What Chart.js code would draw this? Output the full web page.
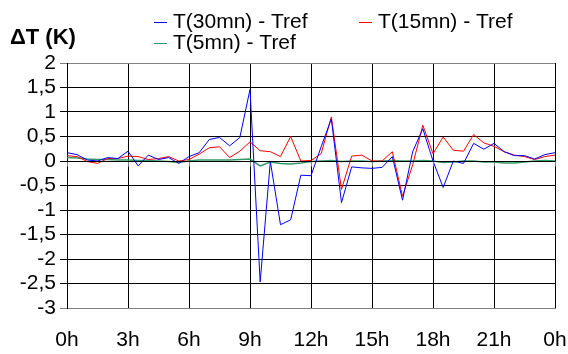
<!DOCTYPE html>
<html>
<head>
<meta charset="utf-8">
<script src="https://cdn.jsdelivr.net/npm/chart.js@4/dist/chart.umd.min.js"></script>
<style>
  html, body { margin: 0; padding: 0; background: #fff; }
  #wrap { width: 568px; height: 354px; }
</style>
</head>
<body>
<div id="wrap"><canvas id="graphique"></canvas></div>
<script>
const heures = ["0h","0h30","1h","1h30","2h","2h30","3h","3h30","4h","4h30","5h","5h30",
  "6h","6h30","7h","7h30","8h","8h30","9h","9h30","10h","10h30","11h","11h30",
  "12h","12h30","13h","13h30","14h","14h30","15h","15h30","16h","16h30","17h","17h30",
  "18h","18h30","19h","19h30","20h","20h30","21h","21h30","22h","22h30","23h","23h30","0h"];

const ecart30 = [0.17, 0.13, 0.02, 0.0, 0.07, 0.05, 0.2, -0.1, 0.12, 0.03, 0.07, -0.05,
  0.09, 0.17, 0.44, 0.48, 0.31, 0.48, 1.46, -2.47, -0.01, -1.3, -1.2, -0.29,
  -0.3, 0.29, 0.86, -0.85, -0.12, -0.14, -0.15, -0.13, 0.09, -0.8, 0.19, 0.66,
  0.0, -0.54, 0.0, -0.05, 0.36, 0.24, 0.36, 0.19, 0.11, 0.11, 0.04, 0.13, 0.17];

const ecart15 = [0.11, 0.09, -0.01, -0.05, 0.05, 0.05, 0.1, 0.09, 0.03, 0.05, 0.09, 0.0,
  0.03, 0.14, 0.27, 0.29, 0.07, 0.2, 0.39, 0.21, 0.19, 0.09, 0.5, 0.0,
  0.01, 0.15, 0.9, -0.58, 0.1, 0.12, 0.0, 0.0, 0.19, -0.72, -0.08, 0.73,
  0.15, 0.49, 0.22, 0.2, 0.54, 0.37, 0.3, 0.19, 0.12, 0.09, 0.03, 0.09, 0.12];

const ecart5 = [0.07, 0.06, 0.04, 0.03, 0.03, 0.02, 0.02, 0.01, 0.01, 0.0, -0.01, -0.03,
  0.0, 0.02, 0.02, 0.02, 0.02, 0.03, 0.04, -0.1, -0.02, -0.05, -0.06, -0.04,
  -0.01, 0.0, 0.01, -0.01, 0.0, 0.0, -0.01, 0.0, 0.01, 0.0, 0.0, 0.01,
  0.0, -0.03, -0.02, 0.0, 0.0, -0.02, -0.02, -0.04, -0.04, -0.02, 0.0, 0.01, 0.0];

const series = ["T(30mn) - Tref", "T(15mn) - Tref", "T(5mn) - Tref"];
const couleurs = ["#0000ff", "#ff0000", "#339966"];

const police = "'Liberation Sans', Arial, sans-serif";

// legende + titre dessines a la main
const legendeMaison = {
  id: "legendeMaison",
  afterDraw(chart) {
    const ctx = chart.ctx;
    ctx.save();
    ctx.fillStyle = "#000";
    ctx.font = "bold 22px " + police;
    ctx.textBaseline = "middle";
    ctx.fillText("\u0394T (K)", 10, 38);

    const places = [[154, 22], [359, 22], [154, 43]];
    ctx.font = "21px " + police;
    for (let i = 0; i < series.length; i++) {
      const [x, y] = places[i];
      ctx.strokeStyle = couleurs[i];
      ctx.lineWidth = 1;
      ctx.beginPath();
      ctx.moveTo(x, y + 0.5);
      ctx.lineTo(x + 13, y + 0.5);
      ctx.stroke();
      ctx.fillStyle = "#000";
      ctx.fillText(series[i], x + 19, y);
    }

    // petites graduations sous la ligne du zero
    const xs = chart.scales.x, ys = chart.scales.y;
    const y0 = Math.round(ys.getPixelForValue(0)) + 0.5;
    ctx.strokeStyle = "#808080";
    for (let i = 0; i < heures.length; i += 6) {
      const x = Math.round(xs.getPixelForValue(i)) + 0.5;
      ctx.beginPath();
      ctx.moveTo(x, y0);
      ctx.lineTo(x, y0 + 5);
      ctx.stroke();
    }
    ctx.strokeStyle = "#000";
    ctx.beginPath();
    ctx.moveTo(xs.left, y0);
    ctx.lineTo(xs.right, y0);
    ctx.stroke();
    ctx.restore();
  }
};

const data = {
  labels: heures,
  datasets: [
    { label: series[0], data: ecart30, borderColor: couleurs[0] },
    { label: series[1], data: ecart15, borderColor: couleurs[1] },
    { label: series[2], data: ecart5, borderColor: couleurs[2], borderWidth: 1.5 }
  ].map(d => Object.assign({ borderWidth: 1, pointRadius: 0, tension: 0, fill: false }, d))
};

const config = {
  type: "line",
  data: data,
  options: {
    responsive: true,
    maintainAspectRatio: false,
    animation: false,
    layout: { padding: { top: 63, right: 13, left: 0, bottom: 0 } },
    plugins: { legend: { display: false }, tooltip: { enabled: false } },
    scales: {
      x: {
        offset: false,
        ticks: {
          autoSkip: false,
          maxRotation: 0,
          padding: 20,
          color: "#000",
          font: { family: police, size: 21 },
          callback: function (val, index) {
            return index % 6 === 0 ? heures[index] : null;
          }
        },
        grid: {
          drawTicks: false,
          color: ctx => (ctx.index === heures.length - 1 ? "#808080" : "#000"),
          lineWidth: 1
        },
        border: { color: "#808080" },
        afterFit: scale => {
          scale.height = 46;
          scale.paddingLeft = 0;
          scale.paddingRight = 0;
        }
      },
      y: {
        min: -3,
        max: 2,
        ticks: {
          stepSize: 0.5,
          autoSkip: false,
          padding: 4,
          color: "#000",
          font: { family: police, size: 21 },
          callback: v => String(v).replace(".", ",")
        },
        grid: {
          tickLength: 7,
          color: ctx => (ctx.tick && (ctx.tick.value === 2 || ctx.tick.value === -3) ? "#808080" : "#000"),
          lineWidth: 1
        },
        border: { color: "#000" },
        afterFit: scale => {
          scale.width = 67;
          scale.paddingTop = 0;
          scale.paddingBottom = 0;
        }
      }
    }
  },
  plugins: [legendeMaison]
};

const graphique = new Chart(document.querySelector("#graphique"), config);
</script>
</body>
</html>
